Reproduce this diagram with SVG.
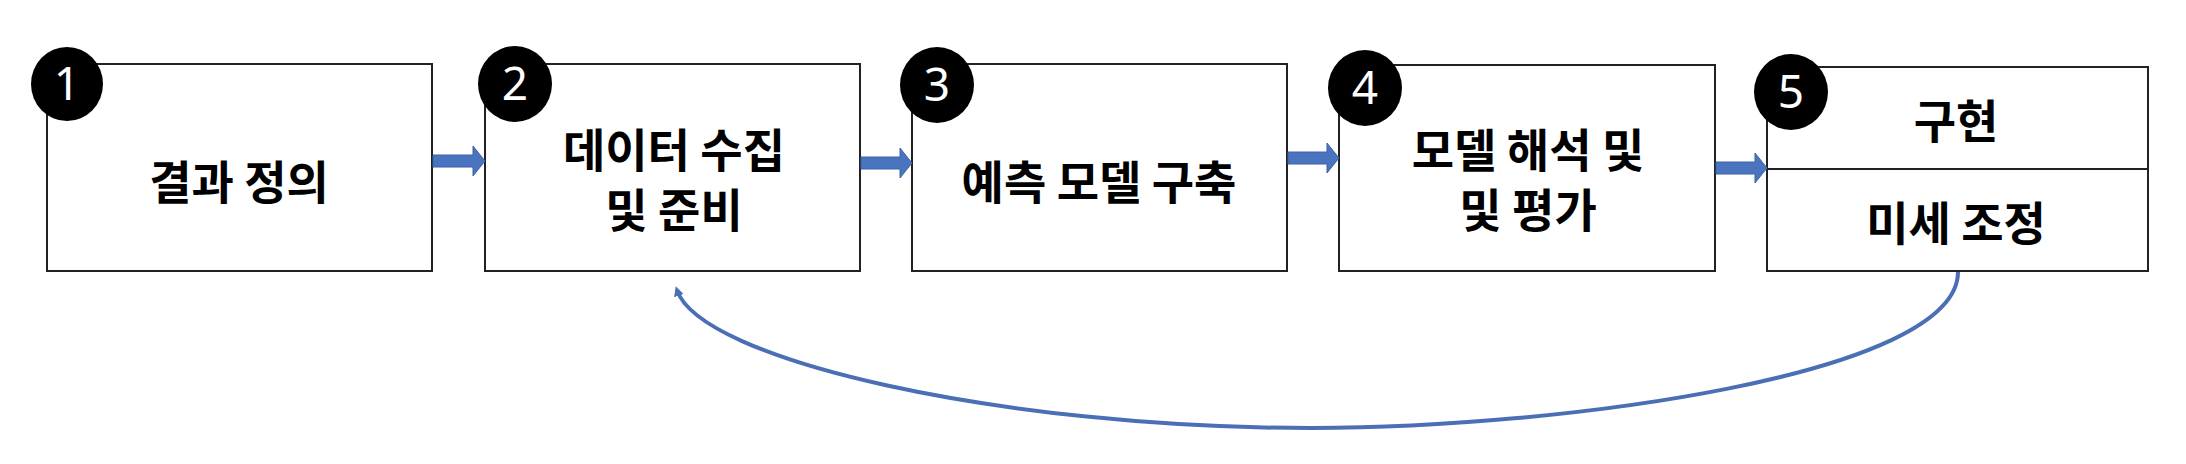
<svg xmlns="http://www.w3.org/2000/svg" width="2186" height="464" viewBox="0 0 2186 464">
<style>
.box{fill:#fff;stroke:#222;stroke-width:2}
.t{font-family:"Noto Sans CJK KR",sans-serif;font-weight:bold;font-size:46px;text-anchor:middle;fill:#000}
.n{font-family:"Noto Sans","DejaVu Sans",sans-serif;font-size:46px;text-anchor:middle;fill:#fff}
.ba{fill:#4a74c0;stroke:#3d62a8;stroke-width:1}
</style>
<defs>
<marker id="ah" markerWidth="10" markerHeight="10" refX="6" refY="5" orient="auto" markerUnits="userSpaceOnUse" viewBox="0 0 10 10"><path d="M0,0 L10,5 L0,10 z" fill="#4a6fb5"/></marker>
</defs>
<g id="n1"><rect class="box" x="47" y="64" width="385" height="207"/><text class="t" x="239" y="199">결과 정의</text><ellipse cx="67" cy="84" rx="36" ry="37"/><text class="n" x="67" y="100">1</text></g>
<g id="n2"><rect class="box" x="485" y="64" width="375" height="207"/><text class="t" x="674" y="167">데이터 수집</text><text class="t" x="674" y="227">및 준비</text><ellipse cx="515" cy="84" rx="37" ry="38"/><text class="n" x="515" y="100">2</text></g>
<g id="n3"><rect class="box" x="912" y="64" width="375" height="207"/><text class="t" x="1099" y="199">예측 모델 구축</text><ellipse cx="937" cy="85" rx="37" ry="38"/><text class="n" x="937" y="101">3</text></g>
<g id="n4"><rect class="box" x="1339" y="65" width="376" height="206"/><text class="t" x="1528" y="167">모델 해석 및</text><text class="t" x="1528" y="227">및 평가</text><ellipse cx="1365" cy="88" rx="37" ry="38"/><text class="n" x="1365" y="104">4</text></g>
<g id="n5"><rect class="box" x="1767" y="67" width="381" height="204"/><line x1="1767" y1="169" x2="2148" y2="169" stroke="#222" stroke-width="2"/><text class="t" x="1956" y="138">구현</text><text class="t" x="1956" y="240">미세 조정</text><ellipse cx="1791" cy="92" rx="37" ry="38"/><text class="n" x="1791" y="108">5</text></g>
<g id="connectors">
<path class="ba" d="M433,155 H473 V146 L485,161 L473,176 V167 H433 z"/>
<path class="ba" d="M861,157 H900 V148 L912,163 L900,178 V169 H861 z"/>
<path class="ba" d="M1288,152 H1327 V143 L1339,158 L1327,173 V164 H1288 z"/>
<path class="ba" d="M1716,162 H1755 V153 L1767,168 L1755,183 V174 H1716 z"/>
<path d="M1958,272 C1958,375 1560,428 1311,428 C1000,428 700,360 677,290" fill="none" stroke="#4a6fb5" stroke-width="4" marker-end="url(#ah)"/>
</g>
</svg>
